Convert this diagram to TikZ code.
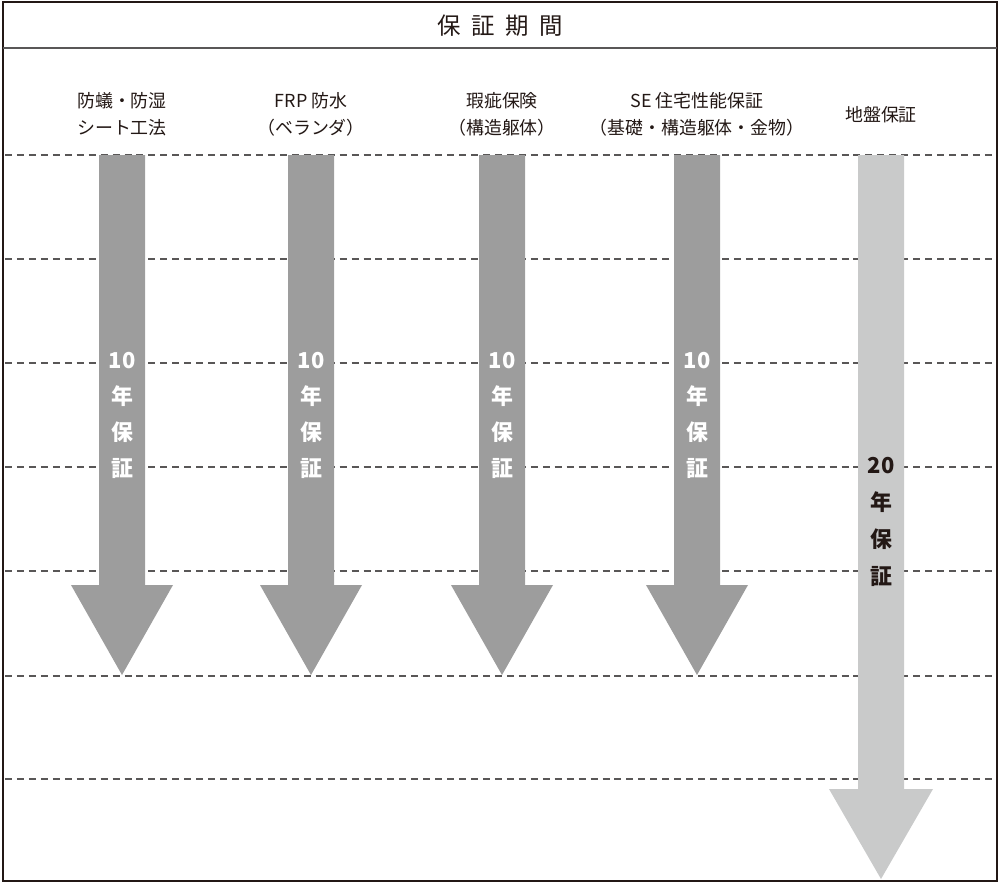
\documentclass[tikz,border=0pt]{standalone}
\usepackage{fontspec}
\setmainfont{Noto Sans CJK JP}
\usetikzlibrary{positioning}
\definecolor{arrowdark}{HTML}{9D9D9D}
\definecolor{arrowlight}{HTML}{C9CACA}
\definecolor{inkdark}{HTML}{231815}
\definecolor{rulegray}{HTML}{595757}

\begin{document}
\begin{tikzpicture}[
  x=0.03cm, y=-0.03cm,
  head/.style={font=\fontsize{20}{24}\selectfont, text=inkdark},
  plan/.style={align=center, font=\fontsize{15.3}{23}\selectfont, text=inkdark},
  term/.style={align=center, font=\bfseries\fontsize{18.7}{30.7}\selectfont},
  guide/.style={rulegray, line width=0.9pt, dash pattern=on 6pt off 4.2pt}
]
\useasboundingbox (0,0) rectangle (1000,883);

% frame and header
\draw[inkdark, line width=1.4pt] (3,2) rectangle (997,881);
\draw[rulegray, line width=1.4pt] (3,48) -- (997,48);
\node[head] (title) at (500,26) {保\hspace{0.45em}証\hspace{0.45em}期\hspace{0.45em}間};

% dashed guides
\foreach \y in {155,259,363,467,571,676,779}
  \draw[guide] (5,\y) -- (995,\y);

% 10-year arrows
\foreach \cx/\i in {122/1,311/2,502/3,697/4}{
  \fill[arrowdark] (\cx-23,155) -- (\cx+23,155) -- (\cx+23,585) -- (\cx+51,585)
    -- (\cx,675) -- (\cx-51,585) -- (\cx-23,585) -- cycle;
  \node[term, text=white] (term\i) at (\cx,415.5) {10\\年\\保\\証};
}

% 20-year arrow
\fill[arrowlight] (858,155) -- (904,155) -- (904,789) -- (933,789)
  -- (881,879) -- (829,789) -- (858,789) -- cycle;
\node[term, text=inkdark, font=\bfseries\fontsize{18.7}{31.4}\selectfont] (term5) at (881,522) {20\\年\\保\\証};

% item labels
\node[plan] (plan1) at (122,114.5) {防蟻・防湿\\シート工法};
\node[plan] (plan2) at (311,114.5) {FRP 防水\\（ベランダ）};
\node[plan] (plan3) at (502,114.5) {瑕疵保険\\（構造躯体）};
\node[plan] (plan4) at (697,114.5) {SE 住宅性能保証\\（基礎・構造躯体・金物）};
\node[plan] (plan5) at (881,115) {地盤保証};
\end{tikzpicture}
\end{document}
